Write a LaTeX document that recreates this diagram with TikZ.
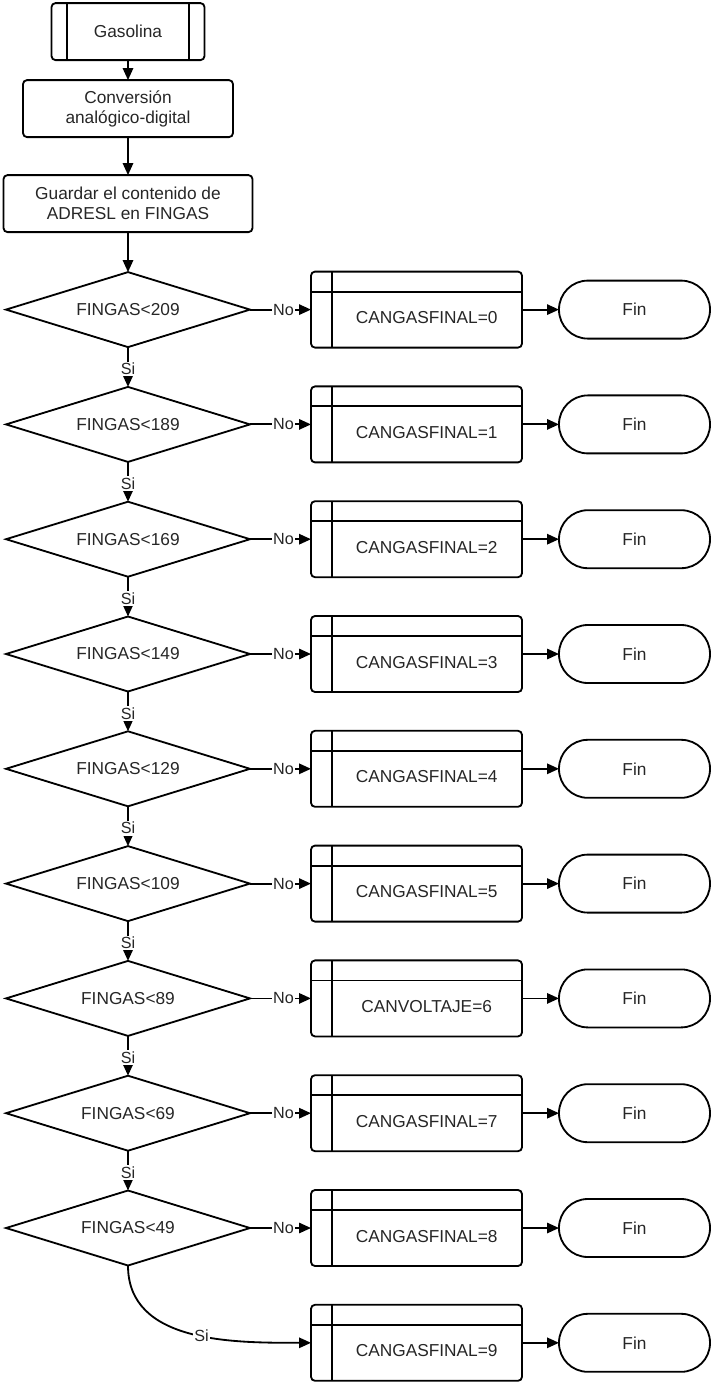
\documentclass[tikz,border=0pt]{standalone}
\usepackage{fontspec}
\setmainfont{Liberation Sans}
\usepackage{tikz}
\usetikzlibrary{arrows.meta,positioning,shapes.geometric}

\begin{document}
\begin{tikzpicture}[
  line width=1.3pt,
  every node/.style={font=\fontsize{12.3}{14.2}\selectfont, text=black!85},
  box/.style={draw, rounded corners=1mm, align=center, minimum height=14.25mm, inner sep=0pt, outer sep=0pt},
  subr/.style={box, minimum width=38.25mm,
    path picture={
      \draw ([xshift=3.9mm]path picture bounding box.north west) -- ([xshift=3.9mm]path picture bounding box.south west);
      \draw ([xshift=-3.9mm]path picture bounding box.north east) -- ([xshift=-3.9mm]path picture bounding box.south east);}},
  dec/.style={draw, diamond, aspect=3.25, minimum width=61mm, minimum height=18.75mm, inner sep=0pt, outer sep=0pt},
  calc/.style={draw, rounded corners=1mm, minimum width=52.75mm, minimum height=19mm, inner sep=0pt, outer sep=0pt,
    text height=7mm, text depth=0pt, execute at begin node=\hspace*{5.1mm},
    path picture={
      \draw ([xshift=5.25mm]path picture bounding box.north west) -- ([xshift=5.25mm]path picture bounding box.south west);
      \draw ([yshift=-5mm]path picture bounding box.north west) -- ([yshift=-5mm]path picture bounding box.north east);}},
  fin/.style={draw, rounded corners=7.2mm, minimum width=37.75mm, minimum height=14.5mm, inner sep=0pt, outer sep=0pt},
  lbl/.style={fill=white, inner sep=1pt, font=\fontsize{11.5}{13}\selectfont},
  arr/.style={-{Triangle[length=3mm,width=2.6mm]}}
]
\useasboundingbox (0,0) rectangle (177.75mm,-346.25mm);

\node[subr] (gas) at (32mm,-7.9mm) {Gasolina};
\node[box, minimum width=52.5mm, below=5mm of gas] (conv) {Conversión\\analógico-digital};
\node[box, minimum width=62.25mm, below=9.5mm of conv] (guard) {Guardar el contenido de\\ADRESL en FINGAS};

\node[dec, below=10mm of guard] (d0) {FINGAS<209};
\node[calc, right=15.25mm of d0] (c0) {CANGASFINAL=0};
\node[fin, right=9.25mm of c0] (f0) {Fin};

\node[dec, below=9.95mm of d0] (d1) {FINGAS<189};
\node[calc, right=15.25mm of d1] (c1) {CANGASFINAL=1};
\node[fin, right=9.25mm of c1] (f1) {Fin};

\node[dec, below=9.95mm of d1] (d2) {FINGAS<169};
\node[calc, right=15.25mm of d2] (c2) {CANGASFINAL=2};
\node[fin, right=9.25mm of c2] (f2) {Fin};

\node[dec, below=9.95mm of d2] (d3) {FINGAS<149};
\node[calc, right=15.25mm of d3] (c3) {CANGASFINAL=3};
\node[fin, right=9.25mm of c3] (f3) {Fin};

\node[dec, below=9.95mm of d3] (d4) {FINGAS<129};
\node[calc, right=15.25mm of d4] (c4) {CANGASFINAL=4};
\node[fin, right=9.25mm of c4] (f4) {Fin};

\node[dec, below=9.95mm of d4] (d5) {FINGAS<109};
\node[calc, right=15.25mm of d5] (c5) {CANGASFINAL=5};
\node[fin, right=9.25mm of c5] (f5) {Fin};

\node[dec, below=9.95mm of d5] (d6) {FINGAS<89};
\node[calc, right=15.25mm of d6] (c6) {CANVOLTAJE=6};
\node[fin, right=9.25mm of c6] (f6) {Fin};

\node[dec, below=9.95mm of d6] (d7) {FINGAS<69};
\node[calc, right=15.25mm of d7] (c7) {CANGASFINAL=7};
\node[fin, right=9.25mm of c7] (f7) {Fin};

\node[dec, below=9.95mm of d7] (d8) {FINGAS<49};
\node[calc, right=15.25mm of d8] (c8) {CANGASFINAL=8};
\node[fin, right=9.25mm of c8] (f8) {Fin};

\node[calc, below=9.7mm of c8] (c9) {CANGASFINAL=9};
\node[fin, right=9.25mm of c9] (f9) {Fin};

\draw[arr] (gas) -- (conv);
\draw[arr] (conv) -- (guard);
\draw[arr] (guard) -- (d0);

\draw[arr] (d0) -- node[lbl, pos=.55] {No} (c0);
\draw[arr] (d1) -- node[lbl, pos=.55] {No} (c1);
\draw[arr] (d2) -- node[lbl, pos=.55] {No} (c2);
\draw[arr] (d3) -- node[lbl, pos=.55] {No} (c3);
\draw[arr] (d4) -- node[lbl, pos=.55] {No} (c4);
\draw[arr] (d5) -- node[lbl, pos=.55] {No} (c5);
\draw[arr] (d6) -- node[lbl, pos=.55] {No} (c6);
\draw[arr] (d7) -- node[lbl, pos=.55] {No} (c7);
\draw[arr] (d8) -- node[lbl, pos=.55] {No} (c8);

\draw[arr] (c0) -- (f0);
\draw[arr] (c1) -- (f1);
\draw[arr] (c2) -- (f2);
\draw[arr] (c3) -- (f3);
\draw[arr] (c4) -- (f4);
\draw[arr] (c5) -- (f5);
\draw[arr] (c6) -- (f6);
\draw[arr] (c7) -- (f7);
\draw[arr] (c8) -- (f8);
\draw[arr] (c9) -- (f9);

\draw[arr] (d0) -- node[lbl, pos=.55] {Si} (d1);
\draw[arr] (d1) -- node[lbl, pos=.55] {Si} (d2);
\draw[arr] (d2) -- node[lbl, pos=.55] {Si} (d3);
\draw[arr] (d3) -- node[lbl, pos=.55] {Si} (d4);
\draw[arr] (d4) -- node[lbl, pos=.55] {Si} (d5);
\draw[arr] (d5) -- node[lbl, pos=.55] {Si} (d6);
\draw[arr] (d6) -- node[lbl, pos=.55] {Si} (d7);
\draw[arr] (d7) -- node[lbl, pos=.55] {Si} (d8);
\draw[arr] (d8.south) to[out=-90, in=180] node[lbl, pos=.55] {Si} (c9.west);
\end{tikzpicture}
\end{document}
